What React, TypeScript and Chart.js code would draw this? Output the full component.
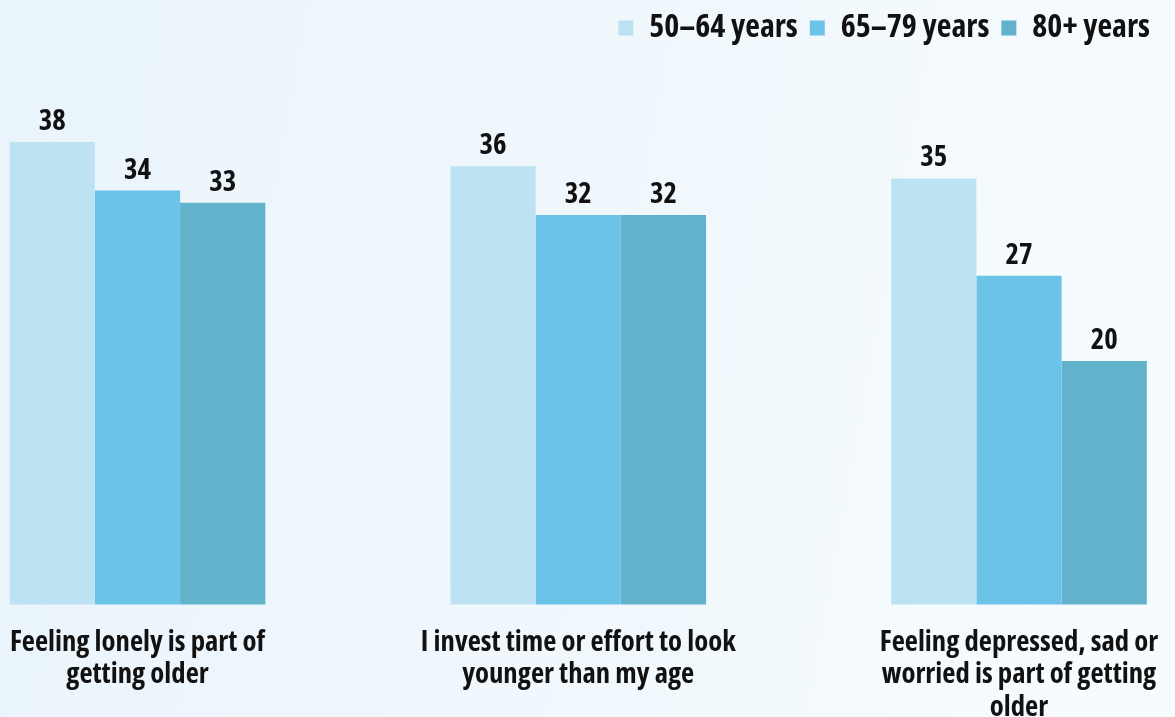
import React, { useEffect, useRef } from "react";
import { Chart, registerables } from "chart.js";

Chart.register(...registerables);

const categories: string[][] = [
  ["Feeling lonely is part of", "getting older"],
  ["I invest time or effort to look", "younger than my age"],
  ["Feeling depressed, sad or", "worried is part of getting", "older"],
];
const seriesNames = ["50\u201364 years", "65\u201379 years", "80+ years"];
const values5064 = [38, 36, 35];
const values6579 = [34, 32, 27];
const values80 = [33, 32, 20];
const colors = ["#bde3f3", "#6bc3e8", "#63b2cc"];

// ---- pick the most condensed installed sans font ----
const mctx = document.createElement("canvas").getContext("2d") as CanvasRenderingContext2D;
function meas(font: string, text: string) {
  mctx.font = font;
  return mctx.measureText(text);
}
function hasFamily(family: string) {
  const probe = "mmmwwwiiilllQQ0123";
  return ["monospace", "serif"].some(
    (b) => meas(`bold 40px ${family}, ${b}`, probe).width !== meas(`bold 40px ${b}`, probe).width
  );
}
const candidates = [
  { weight: "bold extra-condensed", family: "'Noto Sans'" },
  { weight: "bold condensed", family: "'Noto Sans'" },
  { weight: "bold condensed", family: "Roboto" },
  { weight: "bold condensed", family: "'Open Sans'" },
  { weight: "bold", family: "'Liberation Sans Narrow'" },
  { weight: "bold", family: "'DejaVu Sans Condensed'" },
];
const SAMPLE = "Feeling lonely is part of";
let chosen = candidates[candidates.length - 1];
let bestScore = Infinity;
for (const c of candidates) {
  if (!hasFamily(c.family)) continue;
  const m = meas(`${c.weight} 28px ${c.family}`, SAMPLE);
  const plain = meas(`bold 28px ${c.family}`, SAMPLE).width;
  if (c.weight !== "bold" && m.width >= plain - 0.5) continue; // stretch not supported
  const cap = meas(`${c.weight} 28px ${c.family}`, "F").actualBoundingBoxAscent || 20;
  const score = Math.abs(m.width / cap - 12.1);
  if (score < bestScore) {
    bestScore = score;
    chosen = c;
  }
}
const FAMILY = chosen.family + ", 'DejaVu Sans Condensed', sans-serif";
const WEIGHT = chosen.weight;
function sizeFor(text: string, target: number) {
  const w = meas(`${WEIGHT} 28px ${FAMILY}`, text).width;
  return Math.round((28 * target) / w * 10) / 10;
}
const LABEL_SIZE = Math.min(30, sizeFor(SAMPLE, 255));
const VALUE_SIZE = Math.min(32, sizeFor("38", 27));
const LEGEND_SIZE = Math.min(32, sizeFor("50\u201364 years", 166));

const bgPlugin = {
  id: "bg",
  beforeDraw(chart: any) {
    const { ctx, width, height } = chart;
    const g = ctx.createLinearGradient(0, 0, width, height * 0.3);
    g.addColorStop(0, "#e9f4fb");
    g.addColorStop(1, "#f6fbfe");
    ctx.save();
    ctx.fillStyle = g;
    ctx.fillRect(0, 0, width, height);
    ctx.restore();
  },
};

const labelPlugin = {
  id: "valueLabels",
  afterDatasetsDraw(chart: any) {
    const { ctx } = chart;
    ctx.save();
    ctx.font = `${WEIGHT} ${VALUE_SIZE}px ${FAMILY}`;
    ctx.fillStyle = "#111111";
    ctx.textAlign = "center";
    ctx.textBaseline = "alphabetic";
    chart.data.datasets.forEach((ds: any, i: number) => {
      const meta = chart.getDatasetMeta(i);
      meta.data.forEach((bar: any, j: number) => {
        ctx.fillText(String(ds.data[j]), bar.x, bar.y - 12);
      });
    });
    ctx.restore();
  },
};

export default function App() {
  const ref = useRef<HTMLCanvasElement | null>(null);
  useEffect(() => {
    document.body.style.margin = "0";
    const chart = new Chart(ref.current as HTMLCanvasElement, {
      type: "bar",
      data: {
        labels: categories as any,
        datasets: [values5064, values6579, values80].map((d, i) => ({
          label: seriesNames[i],
          data: d,
          backgroundColor: colors[i],
          borderWidth: 0,
          categoryPercentage: 0.58,
          barPercentage: 1,
          clip: false as any,
        })),
      },
      options: {
        animation: false,
        responsive: true,
        maintainAspectRatio: false,
        layout: { padding: { top: 0, bottom: -21, left: 0, right: 13 } },
        plugins: {
          tooltip: { enabled: false },
          legend: {
            position: "top",
            align: "end",
            labels: {
              boxWidth: 15,
              boxHeight: 15,
              padding: 12,
              color: "#111111",
              font: { family: FAMILY, size: LEGEND_SIZE, weight: WEIGHT as any },
            },
          },
        },
        scales: {
          x: {
            offset: false,
            grid: { display: false },
            border: { display: false },
            ticks: {
              color: "#111111",
              padding: 14,
              maxRotation: 0,
              autoSkip: false,
              font: { family: FAMILY, size: LABEL_SIZE, weight: WEIGHT as any, lineHeight: "32.5px" as any },
            },
            afterFit(scale: any) {
              scale.paddingLeft = 0;
              scale.paddingRight = 0;
            },
          },
          y: {
            position: "left",
            min: 0,
            max: 45.22,
            grid: { display: false },
            border: { display: false },
            ticks: { display: false },
            afterFit(scale: any) {
              scale.width = 137.5;
            },
          },
          y2: {
            position: "right",
            min: 0,
            max: 45.22,
            grid: { display: false },
            border: { display: false },
            ticks: { display: false },
            afterFit(scale: any) {
              scale.width = 143;
            },
          },
        },
      },
      plugins: [bgPlugin, labelPlugin],
    });
    return () => chart.destroy();
  }, []);
  return (
    <div style={{ position: "fixed", left: 0, top: 0, width: "1175px", height: "717px" }}>
      <canvas ref={ref} />
    </div>
  );
}
